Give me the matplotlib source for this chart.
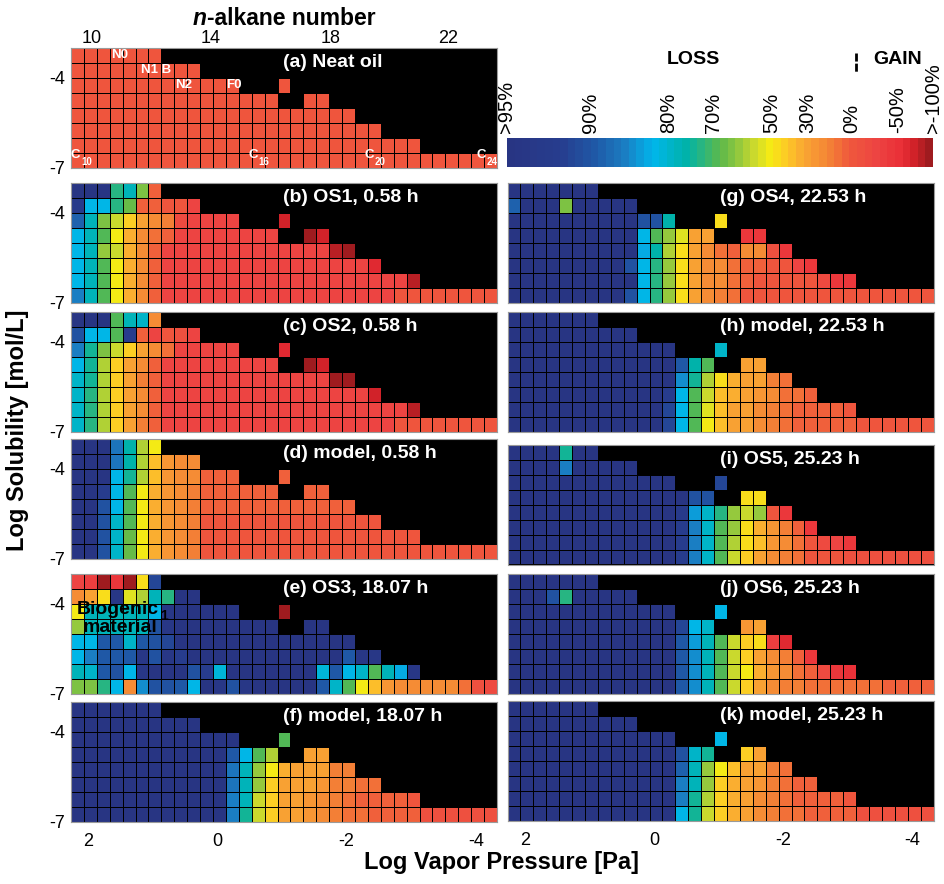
import numpy as np
import matplotlib
matplotlib.use("Agg")
import matplotlib.pyplot as plt
from matplotlib.colors import LinearSegmentedColormap, Normalize
from matplotlib.cm import ScalarMappable
from matplotlib.lines import Line2D

plt.rcParams['font.family'] = ['Liberation Sans', 'DejaVu Sans']

N = np.nan

# bins: log vapor pressure (columns) and log solubility (rows, top row first)
vp_edges = 2.27 - 0.2 * np.arange(34)
sol_edges = -3.0 - 0.5 * np.arange(9)

# colour scale: % loss -> position on the colour bar
loss_ticks = [95, 90, 80, 70, 50, 30, 0, -50, -100]
loss_labels = [">95%", "90%", "80%", "70%", "50%", "30%", "0%", "-50%", ">-100%"]
bar_pos = [0.0, 0.195, 0.379, 0.484, 0.621, 0.707, 0.809, 0.918, 1.0]

alkane_numbers = [10, 14, 18, 22]
alkane_vp = [1.95, 0.11, -1.75, -3.57]

# ---- % loss per cell, rows from highest solubility down ----
neat = [
    [0]*7,
    [0]*10,
    [0]*13 + [N]*3 + [0],
    [0]*16 + [N, N] + [0, 0],
    [0]*22,
    [0]*24,
    [0]*27,
    [0]*33,
]
os1 = [
    [97, 97, 97, 72, 77, 64, 2],
    [93, 82, 82, 72, 66, 2, 2, 0, -5, -30],
    [88, 77, 65, 57, 42, 32, 18, 15, -20, -30, -25, -30, -30] + [N]*3 + [-70],
    [82, 77, 68, 50, 35, 20, 10, 5] + [-30]*8 + [N, N] + [-95, -70],
    [82, 77, 62, 55, 35, 18, 5] + [-30]*13 + [-80, -95],
    [82, 77, 68, 50, 35, 20, 5] + [-30]*16 + [-65],
    [82, 77, 68, 50, 35, 20, 5] + [-30]*19 + [-80],
    [86, 77, 68, 52, 35, 20, 5] + [-25]*18 + [-5]*8,
]
os2 = [
    [97, 97, 97, 70, 77, 80, 22],
    [90, 82, 82, 70, 92, 2, -25, 0, -10, -30],
    [86, 74, 64, 57, 42, 30, 18, 10, -30, -30, -30, -30, -30] + [N]*3 + [-65],
    [82, 74, 58, 44, 28, 18, 5] + [-30]*9 + [N, N] + [-90, -70],
    [80, 74, 58, 44, 28, 15, 5] + [-30]*13 + [-90, -95],
    [80, 72, 58, 42, 28, 18, 5] + [-30]*16 + [-70],
    [80, 72, 58, 42, 28, 18, 5] + [-30]*19 + [-85],
    [80, 72, 58, 42, 30, 15, 5] + [-25]*18 + [-5]*8,
]
model_058 = [
    [97, 97, 97, 87, 76, 58, 50],
    [97, 97, 97, 87, 76, 58, 38, 25, 20, 18],
    [97, 97, 95, 82, 75, 58, 38, 25, 20, 18, 5, 5, 5] + [N]*3 + [5],
    [97, 97, 92, 82, 70, 52, 36, 26, 20, 15] + [3]*6 + [N, N] + [3, 3],
    [97, 97, 90, 82, 69, 50, 35, 26, 20, 15] + [3]*12,
    [97, 97, 90, 80, 69, 50, 35, 26, 20, 15] + [0]*14,
    [97, 97, 90, 80, 67, 50, 35, 25, 20, 15] + [0]*17,
    [97, 97, 90, 80, 67, 50, 35, 25, 20, 15] + [-2]*23,
]
os3 = [
    [-30, -35, -95, -40, -95, 48, 91],
    [18, 32, 48, 94, 53, 58, 77, 73, 97, 97],
    [50, 77, 77, 77, 77, 77, 82, 94, 96, 96, 96, 96, 96] + [N]*3 + [-95],
    [60, 77, 77, 77, 77, 77, 90, 94] + [96]*8 + [N, N] + [95, 95],
    [82, 82, 89, 89, 80, 89, 90, 91] + [95]*14,
    [82, 86, 89, 89, 89, 94, 90, 94, 92] + [95]*12 + [89, 94, 94],
    [77, 80, 89, 90, 82, 94, 95, 95, 95, 90, 92, 81] + [95]*7 + [81, 89, 82, 80, 70, 77, 83, 94],
    [64, 64, 73, 82, 22, 85, 90, 90, 89, 82, 95, 94, 90, 94] + [95]*5
    + [89, 80, 68, 50, 38, 25, 18, 18, 18, 18, 18, 10, -10, -15],
]
model_1807 = [
    [97]*7,
    [97]*10,
    [97]*10 + [95]*3 + [N]*3 + [70],
    [97]*12 + [89, 82, 68, 58] + [N, N] + [30, 30],
    [97]*12 + [87, 77, 62, 50, 35, 30, 30, 28, 15, 15],
    [97]*12 + [87, 77, 60, 44, 32, 30, 28, 25, 15, 15, 10, 10],
    [97]*12 + [86, 77, 57, 44, 32, 30, 25, 20, 15, 8, 6, 5, 4, 2, 0],
    [97]*12 + [86, 75, 55, 42, 32, 30, 25, 20, 15, 10, 8, 6, 5, 4, 3] + [-12]*6,
]
os4 = [
    [97]*7,
    [88, 97, 97, 97, 64, 97, 97, 97, 97, 97],
    [97]*10 + [90, 90, 76] + [N]*3 + [48],
    [97]*10 + [82, 70, 62, 53, 32, 32] + [N, N] + [-40, -40],
    [97]*10 + [83, 76, 58, 48, 32, 22, 10, 5, 18, 20, -10, -40],
    [97]*9 + [90, 82, 73, 60, 48, 32, 22, 18, 10, 5, 5, 0, 0, -25, -40],
    [97]*10 + [82, 73, 60, 46, 32, 22, 18, 10, 5, 0, 0, 0, 0, 0, -20, -45, -45],
    [97]*9 + [90, 82, 73, 60, 46, 32, 22, 15, 8] + [-5]*15,
]
model_2253 = [
    [97]*7,
    [97]*10,
    [97]*13 + [N]*3 + [79],
    [97]*13 + [89, 76, 70] + [N, N] + [32, 32],
    [97]*13 + [85, 74, 58, 45, 35, 30, 28, 15, 8],
    [97]*12 + [92, 82, 70, 57, 40, 33, 30, 25, 18, 12, 8, 5],
    [97]*12 + [91, 82, 70, 54, 38, 32, 28, 22, 15, 10, 5, 4, 3, 2, 0],
    [97]*12 + [91, 82, 69, 50, 38, 32, 28, 22, 15, 8, 6, 5, 4, 3, 3] + [-5]*6,
]
os5 = [
    [97, 97, 97, 97, 75, 97, 97],
    [97, 97, 97, 97, 86, 97, 97, 97, 97, 97],
    [97]*13 + [N]*3 + [91],
    [97]*14 + [90, 90] + [N, N] + [47, 47],
    [97]*13 + [93, 84, 80, 73, 62, 56, 62, 0, -40],
    [97]*13 + [92, 86, 79, 69, 62, 48, 36, 25, 15, 5, -40],
    [97]*13 + [92, 86, 79, 68, 58, 48, 38, 25, 18, 10, 0, -20, -30, -40],
    [97]*13 + [92, 86, 79, 68, 56, 42, 32, 22, 15, 10]
    + [0, -2, -4, -6, -8, -10, -10, -10, -10, -10],
]
os6 = [
    [97]*7,
    [97, 97, 97, 90, 73, 97, 97, 97, 97, 97],
    [97]*13 + [N]*3 + [82],
    [97]*13 + [91, 82, 79] + [N, N] + [25, 30],
    [97]*13 + [89, 84, 77, 69, 57, 44, 46, -35, -60],
    [97]*13 + [89, 85, 78, 69, 57, 44, 32, 20, 15, 5, -40],
    [97]*13 + [89, 85, 78, 69, 57, 50, 36, 25, 18, 10, 5, -20, -40, -50],
    [97]*13 + [89, 85, 78, 69, 57, 44, 32]
    + [18, 16, 14, 12, 10, 10, 8, 8, 8, 6, 6, 5, 5],
]
model_2523 = [
    [97]*7,
    [97]*10,
    [97]*13 + [N]*3 + [82],
    [97]*13 + [90, 80, 75] + [N, N] + [42, 32],
    [97]*13 + [88, 78, 62, 50, 40, 32, 30, 15, 12],
    [97]*13 + [86, 77, 60, 42, 35, 30, 25, 15, 10, 5, 5],
    [97]*13 + [86, 75, 58, 42, 34, 30, 22, 15, 10, 5, 4, 3, 2, 0],
    [97]*13 + [82, 74, 55, 42, 34, 30, 22, 15, 10, 8, 6, 5, 4, 3] + [-10]*6,
]

panel_labels = ["(a) Neat oil", "(b) OS1, 0.58 h", "(c) OS2, 0.58 h", "(d) model, 0.58 h",
                "(e) OS3, 18.07 h", "(f) model, 18.07 h", "(g) OS4, 22.53 h",
                "(h) model, 22.53 h", "(i) OS5, 25.23 h", "(j) OS6, 25.23 h",
                "(k) model, 25.23 h"]
panel_data = [neat, os1, os2, model_058, os3, model_1807, os4, model_2253, os5, os6, model_2523]

# compound markers in the neat oil panel
neat_marks = [("N0", 1.52, -3.25), ("N1 B", 0.95, -3.75), ("N2", 0.53, -4.25), ("F0", -0.26, -4.25)]
c_marks = [("10", 2.20), ("16", -0.55), ("20", -2.35), ("24", -4.08)]

# ---- colour map ----
cmap = LinearSegmentedColormap.from_list("lossgain", [
    (0.00, "#283583"), (0.12, "#273d8e"), (0.20, "#1f58a6"), (0.27, "#1b7cc1"),
    (0.34, "#00b6ec"), (0.42, "#00b2a8"), (0.46, "#2db67c"), (0.50, "#5cb84b"),
    (0.54, "#8dc73f"), (0.58, "#c8d82e"), (0.62, "#f6eb14"), (0.66, "#fdc926"),
    (0.70, "#f9a633"), (0.755, "#f48635"), (0.81, "#ef583c"), (0.87, "#ed4542"),
    (0.93, "#ea3038"), (0.96, "#d6232a"), (1.00, "#9f1b1f")], N=56)
cmap.set_bad((0, 0, 0, 0))


def to_grid(rows):
    z = np.full((8, 33), np.nan)
    for i, r in enumerate(rows):
        z[i, :len(r)] = r
    pos = np.interp(z, loss_ticks[::-1], bar_pos[::-1])
    pos[np.isnan(z)] = np.nan
    return np.ma.masked_invalid(pos)


W, H = 944, 884
fig = plt.figure(figsize=(W / 100, H / 100), dpi=100)

# panel boxes in pixels: (left, top)
left_x, right_x, pw, ph = 71, 507.5, 426, 119.5
boxes = [(left_x, 48), (left_x, 183), (left_x, 312), (left_x, 439), (left_x, 574), (left_x, 702),
         (right_x, 183), (right_x, 312), (right_x, 445), (right_x, 574), (right_x, 701)]

axes = []
for k, ((x0, y0), rows, lab) in enumerate(zip(boxes, panel_data, panel_labels)):
    ax = fig.add_axes([x0 / W, 1 - (y0 + ph) / H, pw / W, ph / H])
    ax.set_facecolor("black")
    ax.pcolormesh(vp_edges, sol_edges, to_grid(rows), cmap=cmap, vmin=0, vmax=1,
                  edgecolors="black", linewidth=0.6)
    ax.set_xlim(vp_edges[0], vp_edges[-1])
    ax.set_ylim(-7, -3)
    for s in ax.spines.values():
        s.set_color("#9a9a9a")
        s.set_linewidth(0.8)
    ax.tick_params(length=0, labelsize=13)
    if x0 == left_x:
        ax.set_yticks([-4, -7])
        ax.set_yticklabels(["-4", "-7"])
        ax.tick_params(axis="y", pad=4)
    else:
        ax.set_yticks([])
    ax.set_xticks([])
    ax.text(0.498, 0.88, lab, transform=ax.transAxes, color="white", fontsize=14,
            fontweight="bold", ha="left", va="center")
    axes.append(ax)

# top axis of neat oil panel: n-alkane number
ax_a = axes[0]
ax_a.set_xticks(alkane_vp)
ax_a.set_xticklabels([str(n) for n in alkane_numbers])
ax_a.xaxis.set_ticks_position("top")
ax_a.tick_params(axis="x", pad=0.5)
for lab, vp, sol in neat_marks:
    ax_a.text(vp, sol, lab, color="white", fontsize=9.5, fontweight="bold", ha="center", va="center")
for sub, vp in c_marks:
    ax_a.text(vp, -6.57, "C", color="white", fontsize=9.5, fontweight="bold", ha="center", va="center")
    ax_a.text(vp - 0.17, -6.83, sub, color="white", fontsize=7, fontweight="bold", ha="center", va="center")

# bottom ticks
for ax in (axes[5], axes[10]):
    ax.set_xticks([2, 0, -2, -4])
    ax.set_xticklabels(["2", "0", "-2", "-4"])
    ax.tick_params(axis="x", pad=8)

# biogenic note in (e)
ax_e = axes[4]
ax_e.text(0.014, 0.70, "Biogenic", transform=ax_e.transAxes, color="black", fontsize=14,
          fontweight="bold", ha="left", va="center")
ax_e.text(0.028, 0.555, "material", transform=ax_e.transAxes, color="black", fontsize=14,
          fontweight="bold", ha="left", va="center")
ax_e.text(0.218, 0.647, "1", transform=ax_e.transAxes, color="black", fontsize=10,
          fontweight="bold", ha="center", va="center")

# colour bar
cax = fig.add_axes([507 / W, 1 - 167 / H, 426 / W, 29 / H])
cb = fig.colorbar(ScalarMappable(Normalize(0, 1), cmap), cax=cax, orientation="horizontal")
cb.outline.set_visible(False)
cax.xaxis.set_ticks_position("top")
cb.set_ticks(bar_pos)
cb.set_ticklabels(loss_labels)
cax.tick_params(length=0, pad=3.5, labelsize=14.5, labelrotation=90)

fig.text(693 / W, 1 - 60 / H, "LOSS", fontsize=14, fontweight="bold", ha="center", va="center")
fig.text(898 / W, 1 - 60 / H, "GAIN", fontsize=14, fontweight="bold", ha="center", va="center")
fig.add_artist(Line2D([856 / W, 856 / W], [1 - 53 / H, 1 - 72 / H], transform=fig.transFigure,
                      color="black", lw=2, linestyle=(0, (2.9, 0.75))))

# axis titles
fig.text(207 / W, 1 - 25 / H, "n", fontsize=16.5, fontweight="bold", fontstyle="italic",
         ha="right", va="baseline")
fig.text(207 / W, 1 - 25 / H, "-alkane number", fontsize=16.5, fontweight="bold",
         ha="left", va="baseline")
fig.text(501 / W, 1 - 862 / H, "Log Vapor Pressure [Pa]", fontsize=17, fontweight="bold",
         ha="center", va="center")
fig.text(18 / W, 1 - 430 / H, "Log Solubility [mol/L]", fontsize=17, fontweight="bold",
         rotation=90, ha="center", va="center")

fig.savefig("out.png", dpi=100)
